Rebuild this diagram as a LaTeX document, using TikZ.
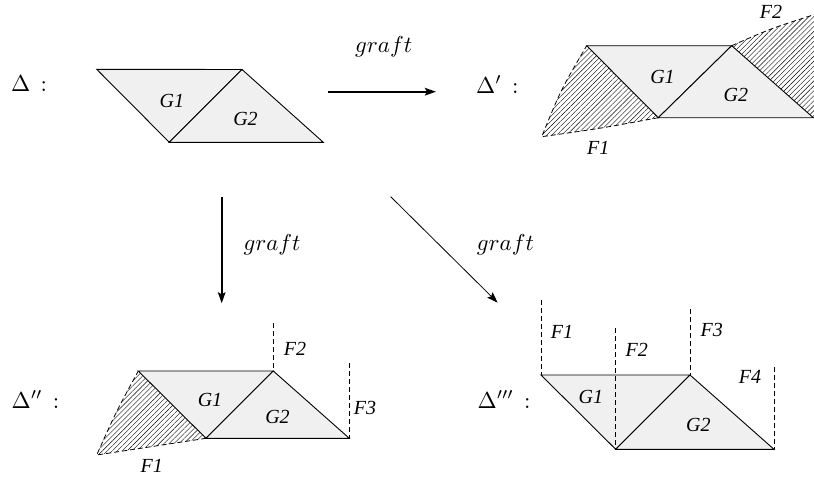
\RequirePackage{fix-cm}
\documentclass[tikz,border=0pt]{standalone}
\usepackage{graphicx}
\usepackage{fontspec}
\newfontfamily\tms{Liberation Serif}
\usetikzlibrary{arrows.meta,patterns.meta}
\definecolor{trifill}{RGB}{240,240,240}
\newcommand{\mybigmath}[1]{\scalebox{2.3}{$#1$}}
\begin{document}
\begin{tikzpicture}[x=1pt,y=-1pt,
  tri/.style={draw=black,fill=trifill,line width=0.9pt,line join=miter},
  hatchreg/.style={pattern={Lines[angle=45,distance=3.5pt,line width=0.4pt]}},
  dsh/.style={draw=black,line width=0.8pt,dash pattern=on 5pt off 3pt},
  lbl/.style={inner sep=0pt,font=\tms\itshape\fontsize{20}{24}\selectfont},
  mlbl/.style={inner sep=0pt,anchor=base west},
  arr/.style={-{Stealth[length=11pt,width=7.5pt,inset=2pt]}}]
\useasboundingbox (0,0) rectangle (814,479);
\fill[white] (0,0) rectangle (814,479);

% ---------- panel Delta ----------
\coordinate (a1) at (96.7,69.3);
\coordinate (a2) at (242,69.5);
\coordinate (a3) at (169.3,142.3);
\coordinate (a4) at (323.3,142.3);
\path[tri] (a1) -- (a2) -- (a3) -- cycle;
\path[tri] (a2) -- (a4) -- (a3) -- cycle;
\node[lbl] (ag1) at (171.8,100.5) {G1};
\node[lbl] (ag2) at (245.5,118.8) {G2};
\node[mlbl] (ad) at (11,91.7) {\mybigmath{\Delta\,:}};

% ---------- panel Delta' ----------
\coordinate (b1) at (586.7,45.7);
\coordinate (b2) at (731.7,45.7);
\coordinate (b3) at (658.3,117.7);
\coordinate (b4) at (813.3,117.7);
\coordinate (bc) at (541.7,136.7);
\coordinate (br) at (814.5,14.5);
\coordinate (bq) at (814.5,117.7);
\fill[hatchreg] (b1) -- (b3) .. controls (600,128.5) .. (bc) .. controls (561,89.5) .. (b1) -- cycle;
\fill[hatchreg] (b2) -- (b4) -- (bq) -- (br) .. controls (771,28.5) .. (b2) -- cycle;
\draw[dsh] (b3) .. controls (600,128.5) .. (bc) .. controls (561,89.5) .. (b1);
\draw[dsh] (b2) .. controls (771,28.5) .. (br);
\path[tri] (b1) -- (b2) -- (b3) -- cycle;
\path[tri] (b2) -- (b4) -- (b3) -- cycle;
\node[lbl] (bg1) at (662.5,76.7) {G1};
\node[lbl] (bg2) at (735.8,95) {G2};
\node[lbl] (bf1) at (598.3,147.5) {F1};
\node[lbl] (bf2) at (771,11.7) {F2};
\node[mlbl] (bd) at (476,93) {\mybigmath{\Delta'\,:}};

% ---------- panel Delta'' ----------
\coordinate (c1) at (138.3,371);
\coordinate (c2) at (273.3,371);
\coordinate (c3) at (206,438.3);
\coordinate (c4) at (349.3,438.3);
\coordinate (cc) at (96.7,455);
\coordinate (ct2) at (273.3,323.3);
\coordinate (ct3) at (349.3,363.3);
\fill[hatchreg] (c1) -- (c3) .. controls (151.5,447.5) .. (cc) .. controls (116,412) .. (c1) -- cycle;
\draw[dsh] (c3) .. controls (151.5,447.5) .. (cc) .. controls (116,412) .. (c1);
\path[tri] (c1) -- (c2) -- (c3) -- cycle;
\path[tri] (c2) -- (c4) -- (c3) -- cycle;
\draw[dsh] (ct2) -- (c2);
\draw[dsh] (ct3) -- (c4);
\node[lbl] (cg1) at (210,400) {G1};
\node[lbl] (cg2) at (277.5,417) {G2};
\node[lbl] (cf1) at (151.7,465.8) {F1};
\node[lbl] (cf2) at (295,349) {F2};
\node[lbl] (cf3) at (365,408.3) {F3};
\node[mlbl] (cd) at (11.5,408.3) {\mybigmath{\Delta''\,:}};

% ---------- panel Delta''' ----------
\coordinate (d1) at (541,375);
\coordinate (d2) at (690,375);
\coordinate (d3) at (615.7,449.3);
\coordinate (d4) at (774,449.3);
\coordinate (dt1) at (541,300);
\coordinate (dt2) at (615.7,328.3);
\coordinate (dt3) at (690,309.3);
\coordinate (dt4) at (774,367.3);
\path[tri] (d1) -- (d2) -- (d3) -- cycle;
\path[tri] (d2) -- (d4) -- (d3) -- cycle;
\draw[dsh] (dt1) -- (d1);
\draw[dsh] (dt2) -- (d3);
\draw[dsh] (dt3) -- (d2);
\draw[dsh] (dt4) -- (d4);
\node[lbl] (dg1) at (590.8,396.7) {G1};
\node[lbl] (dg2) at (698.3,425) {G2};
\node[lbl] (df1) at (562,331.7) {F1};
\node[lbl] (df2) at (636.7,350) {F2};
\node[lbl] (df3) at (711.7,330) {F3};
\node[lbl] (df4) at (750,377) {F4};
\node[mlbl] (dd) at (477.5,408.3) {\mybigmath{\Delta'''\,:}};

% ---------- arrows ----------
\coordinate (h1) at (328,91.7);
\coordinate (h2) at (436,91.7);
\draw[arr,line width=2.3pt] (h1) -- (h2);
\node[mlbl] (gh) at (355,52.7) {\mybigmath{graft}};

\coordinate (v1) at (221.7,196.7);
\coordinate (v2) at (221.7,303.3);
\draw[arr,line width=1.7pt] (v1) -- (v2);
\node[mlbl] (gv) at (243.3,250) {\mybigmath{graft}};

\coordinate (s1) at (390.7,196.7);
\coordinate (s2) at (497.7,302.7);
\draw[arr,line width=0.8pt] (s1) -- (s2);
\node[mlbl] (gs) at (476.7,250) {\mybigmath{graft}};
\end{tikzpicture}
\end{document}
